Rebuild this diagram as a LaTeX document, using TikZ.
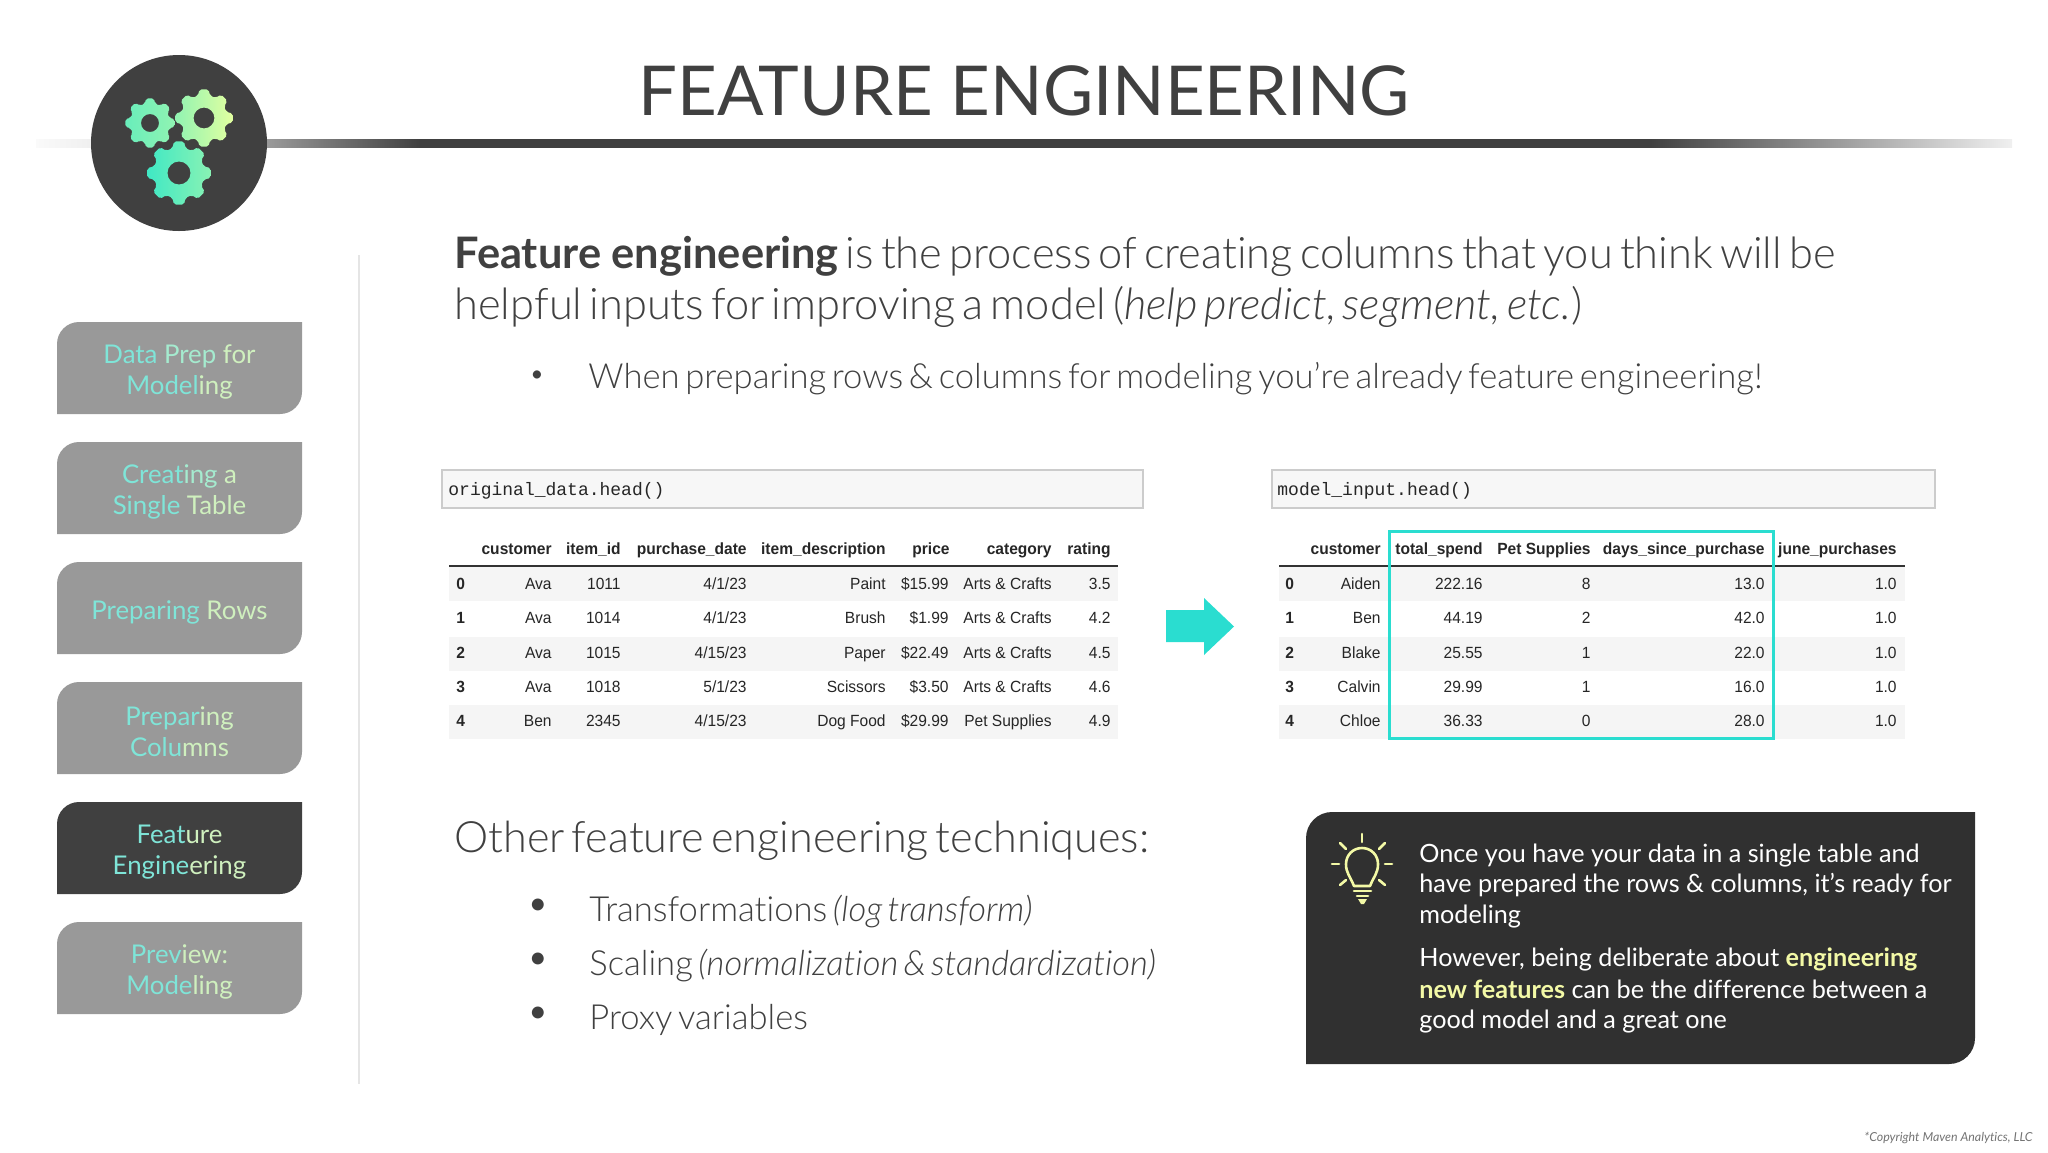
\documentclass[tikz,border=0pt]{standalone}
\usepackage{fontspec}
\usepackage{xcolor}
\setmainfont{Lato}[Ligatures=NoCommon]
\newfontfamily\lightfont{Lato Light}[ItalicFont={Lato Light Italic},WordSpace=0.6,Ligatures=NoCommon]
\newfontfamily\tablefont{Liberation Sans}[FakeStretch=0.96]
\newfontfamily\codefont{Liberation Mono}
\definecolor{slate}{HTML}{404040}
\definecolor{panel}{HTML}{303030}
\definecolor{aqua}{HTML}{2ADDD0}
\definecolor{lemon}{HTML}{F3F9A6}
\definecolor{navgray}{HTML}{999999}
\definecolor{minta}{HTML}{7FE5D8}
\definecolor{mintb}{HTML}{A5EBCF}
\definecolor{mintc}{HTML}{CFF0BE}
\definecolor{gearlow}{HTML}{40E8C4}
\definecolor{gearhigh}{HTML}{E2FFA0}
\pgfdeclarehorizontalshading{rulefade}{100bp}{color(0bp)=(black!2); color(25bp)=(black!2); color(26.4bp)=(black!6); color(30.9bp)=(black!40); color(34.7bp)=(slate); color(65.8bp)=(slate); color(75bp)=(black!6); color(100bp)=(black!6)}
\tikzset{
	txt/.style={anchor=base west, inner sep=0, text=slate},
	navlabel/.style={inner sep=0, align=center, font=\fontsize{12.9}{15.5}\selectfont},
	headcell/.style={anchor=mid east, inner sep=0, font=\tablefont\bfseries\fontsize{8.1}{9}\selectfont, text=black!85},
	cell/.style={anchor=mid east, inner sep=0, font=\tablefont\fontsize{8.1}{9}\selectfont, text=black!85},
	idxcell/.style={anchor=mid west, inner sep=0, font=\tablefont\bfseries\fontsize{8.1}{9}\selectfont, text=black!85},
	codebox/.style={fill=black!3, draw=black!20, line width=.7pt},
	codetxt/.style={anchor=mid west, inner sep=0, font=\codefont\fontsize{9}{10}\selectfont, text=black!85},
	bulletmark/.style={inner sep=0, text=slate, font=\fontsize{16}{16}\selectfont},
	callout/.style={anchor=base west, inner sep=0, text=white, font=\fontsize{12.6}{15}\selectfont},
	bulbline/.style={draw=lemon, line width=1.3pt, line cap=round, line join=round},
	gear/.style={even odd rule, shading angle=45, rounded corners=1pt}
}
\newcommand{\gearpath}[3]{% centre x, y, outer radius
	(#1+#3,#2) \foreach \g in {0,45,...,315}
	{
		-- ({#1+#3*cos(\g+9)},{#2+#3*sin(\g+9)})
		-- ({#1+.8*#3*cos(\g+15)},{#2+.8*#3*sin(\g+15)})
		-- ({#1+.8*#3*cos(\g+30)},{#2+.8*#3*sin(\g+30)})
		-- ({#1+#3*cos(\g+36)},{#2+#3*sin(\g+36)})
	} -- cycle
	(#1,#2) circle ({.36*#3})
}
\begin{document}
\begin{tikzpicture}[x=.5pt, y=-.5pt]
	\useasboundingbox (0,0) rectangle (2048,1152);

	% header rule and badge
	\shade[shading=rulefade] (36,139) rectangle (2012,147);
	\fill[slate] (179,143) circle (88);
	\shade[gear, left color=gearhigh!25!gearlow, right color=gearhigh!50!gearlow] \gearpath{150}{123}{25};
	\shade[gear, left color=gearhigh!50!gearlow, right color=gearhigh] \gearpath{204}{118}{29};
	\shade[gear, left color=gearlow, right color=gearhigh!45!gearlow] \gearpath{179}{173}{32};
	\node[anchor=base, inner sep=0, text=slate, font=\fontsize{34.4}{40}\selectfont] (title) at (1024,115) {FEATURE ENGINEERING};

	% side menu
	\draw[black!10, line width=1pt] (359,255) -- (359,1084);
	\foreach \i/\y/\fillcol/\lbl in {
		1/322/navgray/{\textcolor{minta}{Data} \textcolor{mintb}{Prep} \textcolor{mintc}{for}\\\textcolor{minta}{Model}\textcolor{mintc}{ing}},
		2/442/navgray/{\textcolor{minta}{Creat}\textcolor{mintb}{ing} \textcolor{mintc}{a}\\\textcolor{minta}{Single} \textcolor{mintc}{Table}},
		3/562/navgray/{\textcolor{minta}{Preparing} \textcolor{mintc}{Rows}},
		4/682/navgray/{\textcolor{minta}{Prepar}\textcolor{mintc}{ing}\\\textcolor{minta}{Colu}\textcolor{mintc}{mns}},
		5/802/slate/{\textcolor{minta}{Feat}\textcolor{mintc}{ure}\\\textcolor{minta}{Engine}\textcolor{mintc}{ering}},
		6/922/navgray/{\textcolor{minta}{Prev}\textcolor{mintc}{iew:}\\\textcolor{minta}{Mode}\textcolor{mintc}{ling}}}
	{
		\fill[\fillcol] (57,\y+92) [rounded corners=11pt] -- (57,\y) [sharp corners] -- (302,\y) [rounded corners=11pt] -- (302,\y+92) [sharp corners] -- cycle;
		\node[navlabel] (nav\i) at (179.5,\y+50) {\lbl};
	}

	% intro
	\node[txt, font=\lightfont\fontsize{21.7}{26}\selectfont] (introa) at (454,268) {{\normalfont\bfseries Feature engineering} is the process of creating columns that you think will be};
	\node[txt, font=\lightfont\fontsize{21.7}{26}\selectfont] (introb) at (454,319) {helpful inputs for improving a model (\textit{help predict, segment, etc.})};
	\node[bulletmark, font=\fontsize{11}{11}\selectfont] (dota) at (537,376) {•};
	\node[txt, font=\lightfont\fontsize{17.3}{22}\selectfont] (introc) at (588,388) {When preparing rows \& columns for modeling you’re already feature engineering!};

	% left table
	\draw[codebox] (442,470) rectangle (1143,508);
	\node[codetxt] (codea) at (448,490) {original\_data.head()};
	\foreach \y in {566,636,704}
	{
		\fill[black!4] (449,\y+1) rectangle (1118,\y+35);
	}
	\draw[black!80, line width=.7pt] (449,566) -- (1118,566);
	\foreach \x/\lbl in {552/customer,621/item\_id,747/purchase\_date,886/item\_description,950/price,1052/category,1111/rating}
	{
		\node[headcell] (la\x) at (\x,549) {\lbl};
	}
	\foreach \i/\y/\a/\b/\c/\d/\e/\f/\g in {
		0/584/Ava/1011/{4/1/23}/Paint/15.99/Arts \& Crafts/3.5,
		1/618/Ava/1014/{4/1/23}/Brush/1.99/Arts \& Crafts/4.2,
		2/653/Ava/1015/{4/15/23}/Paper/22.49/Arts \& Crafts/4.5,
		3/687/Ava/1018/{5/1/23}/Scissors/3.50/Arts \& Crafts/4.6,
		4/721/Ben/2345/{4/15/23}/Dog Food/29.99/Pet Supplies/4.9}
	{
		\node[idxcell] (li\i) at (456,\y) {\i};
		\node[cell] (lb\i) at (552,\y) {\a};
		\node[cell] (lc\i) at (621,\y) {\b};
		\node[cell] (ld\i) at (747,\y) {\c};
		\node[cell] (le\i) at (886,\y) {\d};
		\node[cell] (lf\i) at (949,\y) {\$\e};
		\node[cell] (lg\i) at (1052,\y) {\f};
		\node[cell] (lh\i) at (1111,\y) {\g};
	}

	% arrow between the tables
	\fill[aqua] (1166,610) -- (1204,610) -- (1204,598) -- (1234,626.5) -- (1204,655) -- (1204,642) -- (1166,642) -- cycle;

	% right table
	\draw[codebox] (1272,470) rectangle (1935,508);
	\node[codetxt] (codeb) at (1277,490) {model\_input.head()};
	\foreach \y in {566,636,704}
	{
		\fill[black!4] (1279,\y+1) rectangle (1905,\y+35);
	}
	\draw[black!80, line width=.7pt] (1279,566) -- (1905,566);
	\foreach \x/\lbl in {1381/customer,1483/total\_spend,1591/Pet Supplies,1765/days\_since\_purchase,1897/june\_purchases}
	{
		\node[headcell] (ra\x) at (\x,549) {\lbl};
	}
	\foreach \i/\y/\a/\b/\c/\d/\e in {
		0/584/Aiden/222.16/8/13.0/1.0,
		1/618/Ben/44.19/2/42.0/1.0,
		2/653/Blake/25.55/1/22.0/1.0,
		3/687/Calvin/29.99/1/16.0/1.0,
		4/721/Chloe/36.33/0/28.0/1.0}
	{
		\node[idxcell] (ri\i) at (1285,\y) {\i};
		\node[cell] (rb\i) at (1381,\y) {\a};
		\node[cell] (rc\i) at (1483,\y) {\b};
		\node[cell] (rd\i) at (1591,\y) {\c};
		\node[cell] (re\i) at (1765,\y) {\d};
		\node[cell] (rf\i) at (1897,\y) {\e};
	}
	\draw[aqua, line width=1.5pt] (1389,531) rectangle (1773,738);

	% techniques
	\node[txt, font=\lightfont\fontsize{21.6}{26}\selectfont] (other) at (454,852) {Other feature engineering techniques:};
	\foreach \i/\y/\lbl in {
		1/921/{Transformations \textit{(log transform)}},
		2/975/{Scaling \textit{(normalization \& standardization)}},
		3/1029/{Proxy variables}}
	{
		\node[bulletmark] (mark\i) at (538,\y-14) {•};
		\node[txt, font=\lightfont\fontsize{17.3}{22}\selectfont] (tech\i) at (589,\y) {\lbl};
	}

	% callout
	\fill[panel] (1306,1064) [rounded corners=13pt] -- (1306,812) [sharp corners] -- (1975,812) [rounded corners=13pt] -- (1975,1064) [sharp corners] -- cycle;
	\draw[bulbline] (1354,886) .. controls (1350,876) and (1346,873) .. (1346,864) .. controls (1346,855) and (1353,848) .. (1362,848) .. controls (1371,848) and (1378,855) .. (1378,864) .. controls (1378,873) and (1374,876) .. (1370,886) -- cycle;
	\draw[bulbline] (1354,891) -- (1371,891);
	\draw[bulbline] (1357,896) -- (1368,896);
	\fill[lemon] (1358,899) -- (1367,899) -- (1364,904) -- (1361,904) -- cycle;
	\foreach \xa/\ya/\xb/\yb in {1362/834/1362/842,1332/864/1339/864,1385/864/1392/864,1340/843/1346/849,1385/843/1379/849,1340/885/1346/880,1385/885/1379/880}
	{
		\draw[bulbline] (\xa,\ya) -- (\xb,\yb);
	}
	\foreach \i/\y/\lbl in {
		1/862/{Once you have your data in a single table and},
		2/892/{have prepared the rows \& columns, it’s ready for},
		3/923/{modeling},
		4/966/{However, being deliberate about \textcolor{lemon}{\bfseries engineering}},
		5/998/{\textcolor{lemon}{\bfseries new features} can be the difference between a},
		6/1028/{good model and a great one}}
	{
		\node[callout] (note\i) at (1419,\y) {\lbl};
	}

	\node[anchor=base east, inner sep=0, text=black!55, font=\itshape\fontsize{6.2}{7}\selectfont] (rights) at (2033,1141) {*Copyright Maven Analytics, LLC};
\end{tikzpicture}
\end{document}
